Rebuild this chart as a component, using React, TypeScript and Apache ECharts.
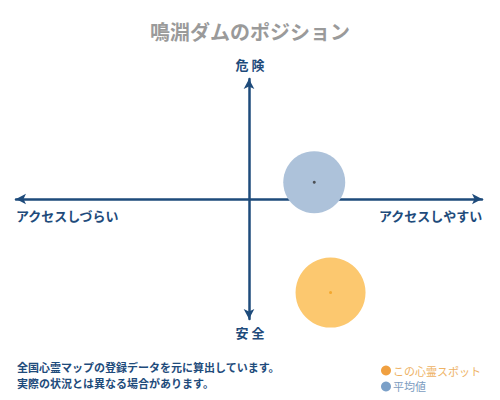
import { useEffect, useRef } from "react";
import * as echarts from "echarts";

const TITLE = "鳴淵ダムのポジション";
const SERIES_NAMES = ["この心霊スポット", "平均値"];
// [access, danger] on a -10..10 scale
const SPOT_POINT = [3.5, -7.8];
const AVG_POINT = [2.8, 1.4];
const SPOT_SIZE = 70;
const AVG_SIZE = 62;
const NOTES = [
  "全国心霊マップの登録データを元に算出しています。",
  "実際の状況とは異なる場合があります。",
];

const NAVY = "#1e4b7b";
const FONT = "'Noto Sans CJK JP', 'Noto Sans', sans-serif";

export default function App() {
  const chartRef = useRef<HTMLDivElement>(null);

  useEffect(() => {
    if (!chartRef.current) return;
    const chart = echarts.init(chartRef.current, null, { renderer: "svg" });

    const axisLine = {
      show: true,
      onZero: true,
      symbol: ["arrow", "arrow"],
      symbolSize: [8, 10],
      lineStyle: { color: NAVY, width: 2.5 },
    };

    chart.setOption({
      animation: false,
      textStyle: { fontFamily: FONT },
      title: {
        text: TITLE,
        left: "center",
        top: 16,
        textStyle: { fontSize: 20, fontWeight: "bold", color: "#9a9a9a", fontFamily: FONT },
      },
      grid: { left: 16, right: 18, top: 79, bottom: 81 },
      xAxis: {
        type: "value",
        min: -10,
        max: 10,
        axisLine,
        axisTick: { show: false },
        axisLabel: { show: false },
        splitLine: { show: false },
      },
      yAxis: {
        type: "value",
        min: -10,
        max: 10,
        axisLine,
        axisTick: { show: false },
        axisLabel: { show: false },
        splitLine: { show: false },
      },
      legend: {
        orient: "vertical",
        left: 376,
        top: 360,
        itemGap: 5,
        itemWidth: 10,
        itemHeight: 10,
        icon: "circle",
        selectedMode: false,
        textStyle: { fontSize: 11, fontFamily: FONT, padding: [0, 0, 0, -3] },
        data: [
          { name: SERIES_NAMES[0], itemStyle: { color: "#f0a040" }, textStyle: { color: "#eeb264" } },
          { name: SERIES_NAMES[1], itemStyle: { color: "#7ba0c8" }, textStyle: { color: "#7c9cc0" } },
        ],
      },
      series: [
        {
          name: SERIES_NAMES[0],
          type: "scatter",
          symbolSize: SPOT_SIZE,
          itemStyle: { color: "#fcc86f", opacity: 1 },
          data: [SPOT_POINT],
          silent: true,
        },
        {
          name: SERIES_NAMES[1],
          type: "scatter",
          symbolSize: AVG_SIZE,
          itemStyle: { color: "#adc2da", opacity: 1 },
          data: [AVG_POINT],
          silent: true,
        },
        {
          name: "center",
          type: "scatter",
          symbolSize: 3,
          silent: true,
          data: [
            { value: SPOT_POINT, itemStyle: { color: "#f0a020" } },
            { value: AVG_POINT, itemStyle: { color: "#333333" } },
          ],
        },
      ],
      graphic: [
        {
          type: "text",
          left: "center",
          top: 58,
          style: { text: "危 険", fontSize: 13, fontWeight: "bold", fill: NAVY, fontFamily: FONT },
        },
        {
          type: "text",
          left: "center",
          top: 326,
          style: { text: "安 全", fontSize: 13, fontWeight: "bold", fill: NAVY, fontFamily: FONT },
        },
        {
          type: "text",
          left: 16,
          top: 209,
          style: { text: "アクセスしづらい", fontSize: 13, fontWeight: "bold", fill: NAVY, fontFamily: FONT },
        },
        {
          type: "text",
          right: 17,
          top: 209,
          style: { text: "アクセスしやすい", fontSize: 13, fontWeight: "bold", fill: NAVY, fontFamily: FONT },
        },
        {
          type: "text",
          left: 17,
          top: 361,
          style: { text: NOTES[0], fontSize: 11, fontWeight: "bold", fill: NAVY, fontFamily: FONT },
        },
        {
          type: "text",
          left: 17,
          top: 377,
          style: { text: NOTES[1], fontSize: 11, fontWeight: "bold", fill: NAVY, fontFamily: FONT },
        },
      ],
    });

    return () => chart.dispose();
  }, []);

  return <div ref={chartRef} style={{ width: "500px", height: "400px", margin: "-8px" }} />;
}
